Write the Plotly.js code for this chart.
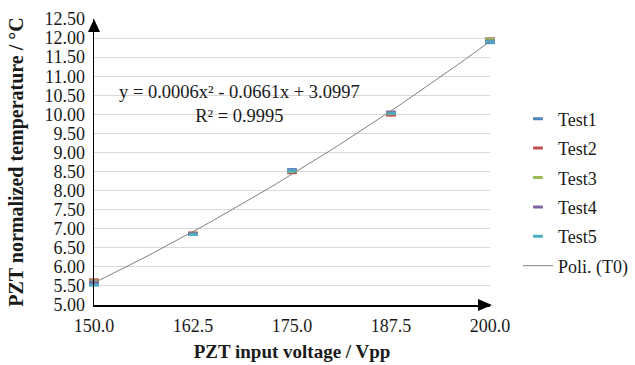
<!DOCTYPE html>
<html>
<head>
<meta charset="utf-8">
<script src="https://cdn.plot.ly/plotly-3.0.1.min.js"></script>
<style>html,body{margin:0;padding:0;background:#fff;}#chart{width:635px;height:365px;}</style>
</head>
<body>
<div id="chart"></div>
<script>
// ---- data ----
const voltage = [150, 162.5, 175, 187.5, 200];
const test1 = [5.55, 6.86, 8.55, 10.05, 11.88];
const test2 = [5.66, 6.89, 8.47, 9.98, 11.98];
const test3 = [5.63, 6.88, 8.50, 10.02, 11.97];
const test4 = [5.60, 6.87, 8.53, 10.06, 11.92];
const test5 = [5.52, 6.85, 8.52, 10.03, 11.90];
const seriesNames = ['Test1', 'Test2', 'Test3', 'Test4', 'Test5'];
const seriesColors = ['#4F81BD', '#C0504D', '#9BBB59', '#8064A2', '#4BACC6'];
const yTickVals = [5.0, 5.5, 6.0, 6.5, 7.0, 7.5, 8.0, 8.5, 9.0, 9.5, 10.0, 10.5, 11.0, 11.5, 12.0, 12.5];
const xTickVals = [150, 162.5, 175, 187.5, 200];
const trendName = 'Poli. (T0)';
const equationText = 'y = 0.0006x² - 0.0661x + 3.0997<br>R² = 0.9995';

// ---- least-squares quadratic trendline from the test data ----
function quadFit(xs, ys) {
  let S = [0,0,0,0,0], T = [0,0,0];
  for (let i = 0; i < xs.length; i++) {
    const t = xs[i] - 175; let p = 1;
    for (let k = 0; k < 5; k++) { S[k] += p; if (k < 3) T[k] += p * ys[i]; p *= t; }
  }
  const A = [[S[0],S[1],S[2],T[0]],[S[1],S[2],S[3],T[1]],[S[2],S[3],S[4],T[2]]];
  for (let i = 0; i < 3; i++) {
    for (let j = i + 1; j < 3; j++) {
      const f = A[j][i] / A[i][i];
      for (let k = i; k < 4; k++) A[j][k] -= f * A[i][k];
    }
  }
  const c = [0,0,0];
  for (let i = 2; i >= 0; i--) {
    let s = A[i][3];
    for (let k = i + 1; k < 3; k++) s -= A[i][k] * c[k];
    c[i] = s / A[i][i];
  }
  return x => c[0] + c[1]*(x-175) + c[2]*(x-175)*(x-175);
}
const allX = [], allY = [];
[test1, test2, test3, test4, test5].forEach(s => s.forEach((v, i) => { allX.push(voltage[i]); allY.push(v); }));
const fit = quadFit(allX, allY);
const trendX = [], trendY = [];
for (let i = 0; i <= 50; i++) { const x = 150 + i; trendX.push(x); trendY.push(fit(x)); }

const serif = 'Liberation Serif';
const txt = '#1a1a1a';
const traces = [test1, test2, test3, test4, test5].map((vals, i) => ({
  type: 'scatter', mode: 'markers', x: voltage, y: vals, name: seriesNames[i],
  legendgroup: 'g' + i, cliponaxis: false,
  marker: { symbol: 'line-ew', size: 7, color: seriesColors[i], line: { color: seriesColors[i], width: 3 } }
}));
traces.push({
  type: 'scatter', mode: 'lines', x: trendX, y: trendY, name: trendName, legendgroup: 'gt',
  cliponaxis: false, line: { color: '#808080', width: 1 }
});

const layout = {
  width: 635, height: 365,
  margin: { l: 94, r: 145, t: 19, b: 60 },
  paper_bgcolor: '#fff', plot_bgcolor: '#fff',
  font: { family: serif, size: 18, color: txt },
  showlegend: true,
  legend: { xref: 'container', yref: 'container', x: 0.8157, y: 0.7247, xanchor: 'left', yanchor: 'top', tracegroupgap: 3,
            font: { family: serif, size: 18, color: txt }, bgcolor: 'rgba(0,0,0,0)' },
  xaxis: {
    range: [150, 200], tickvals: xTickVals, tickformat: '.1f', showgrid: false, zeroline: false,
    showline: true, linecolor: '#000', linewidth: 1.5, ticks: '', ticklabelstandoff: 4,
    tickfont: { family: serif, size: 18, color: txt },
    title: { text: '<b>PZT input voltage / Vpp</b>', font: { family: serif, size: 19, color: txt }, standoff: 9 }
  },
  yaxis: {
    range: [5, 12.5], tickvals: yTickVals, tickformat: '.2f', showgrid: true, gridcolor: '#d9d9d9', gridwidth: 1,
    zeroline: false, showline: true, linecolor: '#000', linewidth: 1.5, ticks: '', ticklabelstandoff: 4,
    tickfont: { family: serif, size: 18, color: txt },
    title: { text: '<b>PZT normalized temperature / °C</b>', font: { family: serif, size: 20, color: txt }, standoff: 15 }
  },
  annotations: [{
    x: 168.4, y: 10.27, xref: 'x', yref: 'y', text: equationText, showarrow: false, align: 'center',
    font: { family: serif, size: 18.5, color: txt }
  }],
  shapes: [
    { type: 'path', xref: 'paper', yref: 'paper', xsizemode: 'pixel', ysizemode: 'pixel', xanchor: 0, yanchor: 1,
      path: 'M -6 -13 L 6 -13 L 0 0 Z', fillcolor: '#000', line: { width: 0 } },
    { type: 'path', xref: 'paper', yref: 'paper', xsizemode: 'pixel', ysizemode: 'pixel', xanchor: 1, yanchor: 0,
      path: 'M -12 -6 L -12 6 L 2 0 Z', fillcolor: '#000', line: { width: 0 } }
  ]
};
Plotly.newPlot('chart', traces, layout, { staticPlot: true, displayModeBar: false });
</script>
</body>
</html>
